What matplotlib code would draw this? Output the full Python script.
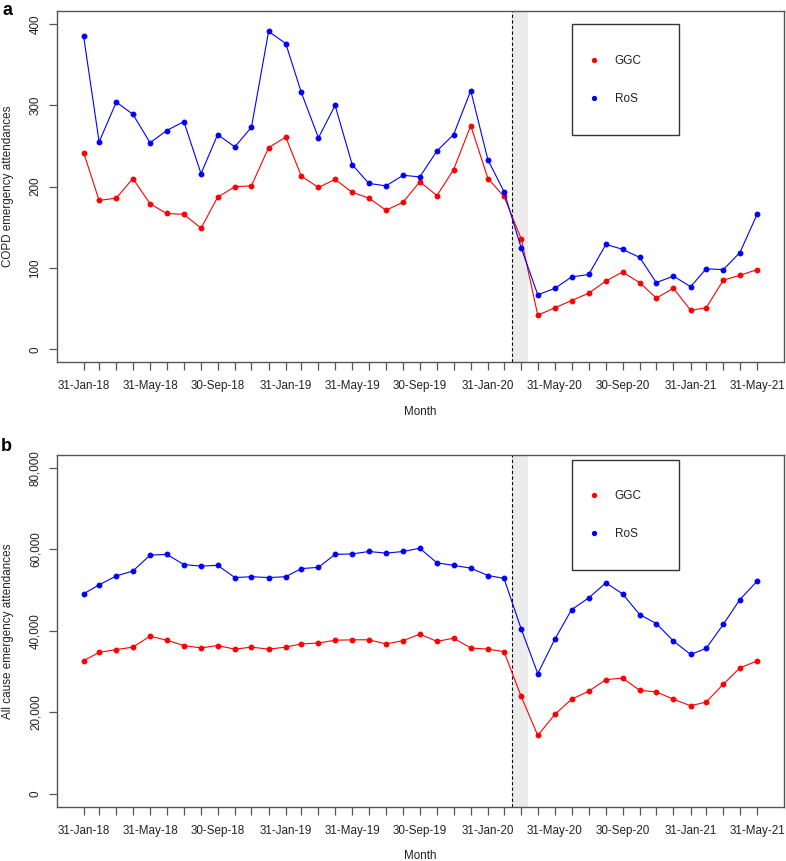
#%% imports

import pandas as pd
import matplotlib
matplotlib.use('Agg')
import matplotlib.pyplot as plt
from matplotlib.lines import Line2D
from matplotlib.patches import Rectangle
from matplotlib.ticker import FuncFormatter

plt.rcParams['font.family'] = ['Liberation Sans', 'DejaVu Sans']

#%% data

months = pd.date_range('2018-01-31', periods=41, freq='ME')

copd_ggc = [242, 183, 186, 210, 179, 167, 166, 149, 187, 200, 201, 248, 261,
            213, 199, 209, 193, 186, 171, 181, 206, 189, 221, 275, 210, 188,
            136, 42, 51, 60, 69, 84, 95, 82, 63, 75, 48, 51, 85, 91, 98]
copd_ros = [385, 255, 304, 289, 254, 269, 280, 216, 264, 249, 273, 391, 376,
            316, 260, 300, 227, 204, 201, 214, 212, 244, 264, 318, 233, 194,
            125, 67, 75, 89, 92, 129, 123, 113, 82, 90, 77, 99, 98, 119, 166]

all_ggc = [32700, 34700, 35400, 36000, 38700, 37700, 36400, 35800, 36400,
           35500, 36000, 35500, 36000, 36800, 37000, 37700, 37800, 37800,
           36800, 37600, 39200, 37400, 38200, 35800, 35500, 34900, 23900,
           14300, 19500, 23200, 25200, 28000, 28400, 25400, 25000, 23200,
           21600, 22500, 26900, 30900, 32600]
all_ros = [49100, 51300, 53500, 54700, 58600, 58800, 56300, 55900, 56100,
           53100, 53300, 53100, 53300, 55300, 55600, 58800, 58900, 59500,
           59100, 59500, 60300, 56700, 56100, 55400, 53600, 52900, 40500,
           29500, 38000, 45200, 48100, 51800, 49100, 44000, 41800, 37500,
           34200, 35700, 41600, 47700, 52200]

lockdown = pd.Timestamp('2020-03-15')
shade_end = pd.Timestamp('2020-04-13')

panels = [
    ('a', copd_ggc, copd_ros, 'COPD emergency attendances', [0, 100, 200, 300, 400], 400),
    ('b', all_ggc, all_ros, 'All cause emergency attendances',
     [0, 20000, 40000, 60000, 80000], 80000),
]

#%% plot

fig = plt.figure(figsize=(7.86, 8.61), dpi=100)
axes = [fig.add_axes([0.0721, 0.5792, 0.9254, 0.4080]),
        fig.add_axes([0.0721, 0.0631, 0.9254, 0.4084])]

span = months[-1] - months[0]
xlo = months[0] - span * 0.04
xhi = months[-1] + span * 0.04
grey = '#555555'
txt = '#222222'

for ax, (tag, ggc, ros, ylab, yticks, ymax) in zip(axes, panels):
    ax.axvspan(lockdown, shade_end, color='#ebebeb', lw=0, zorder=0)
    ax.axvline(lockdown, color='black', ls=(0, (3, 2)), lw=0.8, zorder=1)

    ax.plot(months, ggc, color='red', lw=0.8, marker='o', ms=3.2, zorder=3)
    ax.plot(months, ros, color='blue', lw=0.8, marker='o', ms=3.2, zorder=3)

    ax.set_xlim(xlo, xhi)
    ax.set_ylim(-0.04 * ymax, 1.04 * ymax)
    ax.set_yticks(yticks)
    if ymax > 1000:
        ax.yaxis.set_major_formatter(FuncFormatter(lambda v, p: f'{int(v):,}'))
    for lab in ax.get_yticklabels():
        lab.set_rotation(90)
        lab.set_va('center')

    ax.set_xticks(months)
    ax.set_xticklabels([d.strftime('%d-%b-%y') if i % 4 == 0 else ''
                        for i, d in enumerate(months)])

    ax.tick_params(axis='both', direction='out', length=6, width=0.9,
                   color=grey, labelcolor=txt, labelsize=8.4)
    ax.tick_params(axis='x', pad=7)
    ax.tick_params(axis='y', pad=5)
    for sp in ax.spines.values():
        sp.set_color(grey)
        sp.set_linewidth(1.0)

    ax.set_ylabel(ylab, fontsize=8.4, color=txt, va='center')
    ax.yaxis.set_label_coords(-0.0665, 0.5)
    ax.set_xlabel('Month', fontsize=8.4, color=txt, va='center')
    ax.xaxis.set_label_coords(0.5, -0.1406 if tag == 'a' else -0.1393)

    # legend box
    if tag == 'a':
        box_y0, box_y1, cy = 0.648, 0.963, 0.8036
    else:
        box_y0, box_y1, cy = 0.673, 0.986, 0.8286
    ax.add_patch(Rectangle((0.709, box_y0), 0.146, box_y1 - box_y0,
                           transform=ax.transAxes, fill=False,
                           edgecolor='#333333', lw=1.0, zorder=4))
    handles = [Line2D([], [], ls='', marker='o', ms=2.8, color='red'),
               Line2D([], [], ls='', marker='o', ms=2.8, color='blue')]
    ax.legend(handles, ['GGC', 'RoS'], loc='center left',
              bbox_to_anchor=(0.730, cy), frameon=False, fontsize=8.5,
              handlelength=1.0, handletextpad=1.3, labelspacing=2.2,
              borderpad=0, borderaxespad=0, labelcolor=txt)

fig.text(0.003, 0.998, 'a', fontsize=13, fontweight='bold', va='top', ha='left')
fig.text(0.001, 1 - 438 / 861, 'b', fontsize=13, fontweight='bold', va='top', ha='left')

fig.savefig('out.png', dpi=100)
